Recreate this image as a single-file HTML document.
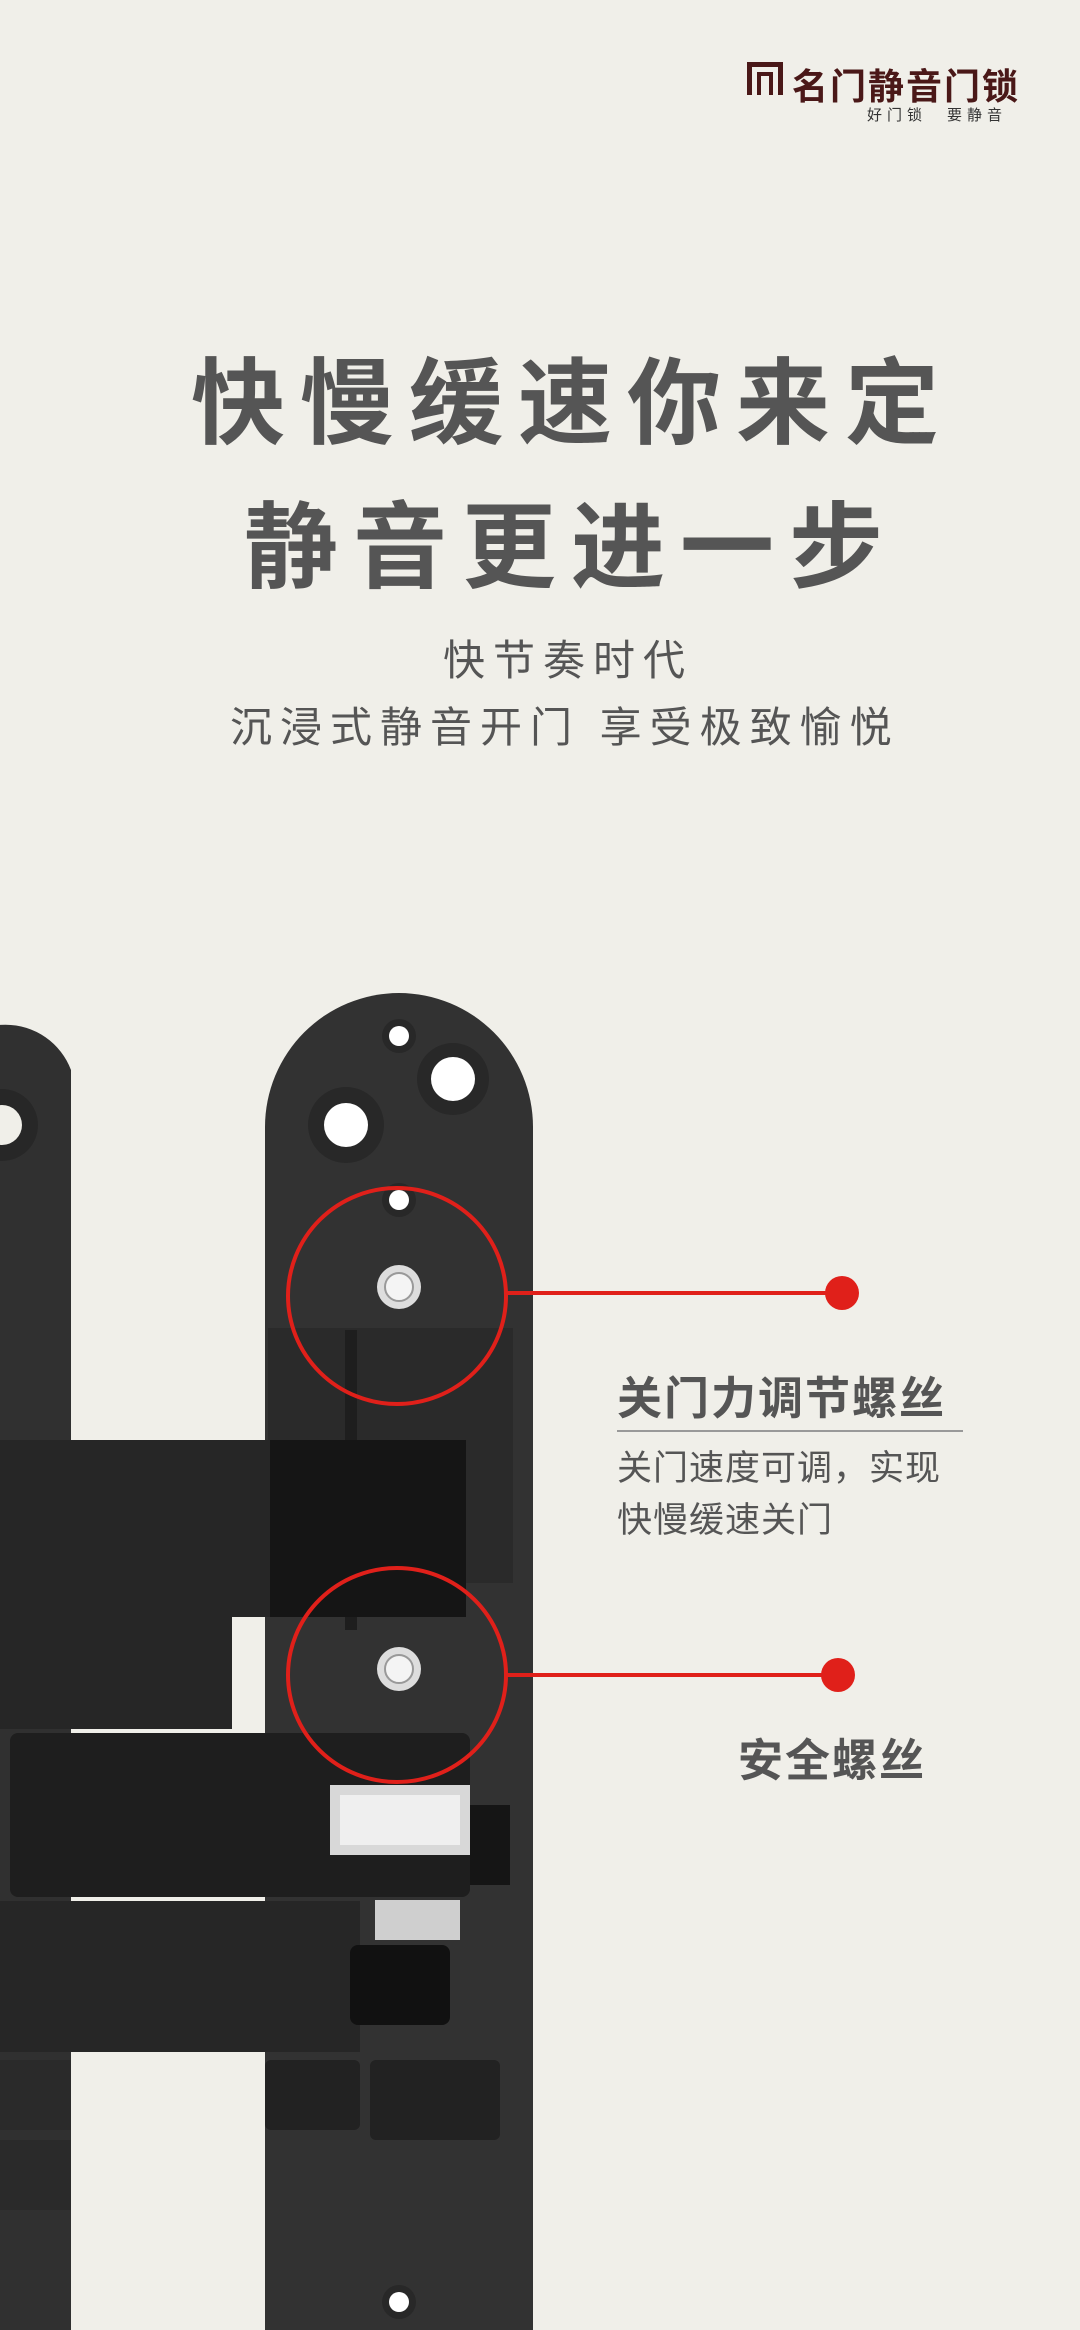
<!DOCTYPE html>
<html><head><meta charset="utf-8"><style>
body{margin:0}
#p{position:relative;width:1080px;height:2330px;background:#f0efe9;overflow:hidden;font-family:"Liberation Sans","Noto Sans CJK SC",sans-serif}
.t{position:absolute;white-space:nowrap}
</style></head><body><div id="p">
<svg width="1080" height="2330" style="position:absolute;left:0;top:0">
<g fill="#4a1818"><rect x="747" y="62" width="36" height="5"/><rect x="747" y="62" width="5" height="33"/><rect x="778" y="62" width="5" height="33"/><rect x="757" y="72" width="4" height="23"/><rect x="769" y="72" width="4" height="23"/><rect x="757" y="72" width="16" height="4"/></g>
<path d="M-60 2330 V1070 A70 70 0 0 1 71 1070 V2330 Z" fill="#303030"/>
<circle cx="2" cy="1125" r="36" fill="#272727"/><circle cx="2" cy="1125" r="20" fill="#f0efe9"/>
<path d="M265 2330 V1127 A134 134 0 0 1 533 1127 V2330 Z" fill="#323232"/>
<rect x="268" y="1328" width="245" height="255" fill="#2a2a2a"/>
<rect x="345" y="1330" width="12" height="300" fill="#1e1e1e"/>
<circle cx="399" cy="1036" r="17" fill="#282828"/><circle cx="399" cy="1036" r="10" fill="#fff"/>
<circle cx="346" cy="1125" r="38" fill="#282828"/><circle cx="346" cy="1125" r="22" fill="#fff"/>
<circle cx="453" cy="1079" r="36" fill="#282828"/><circle cx="453" cy="1079" r="22" fill="#fff"/>
<circle cx="399" cy="1200" r="17" fill="#282828"/><circle cx="399" cy="1200" r="10" fill="#fff"/>
<circle cx="399" cy="2302" r="17" fill="#282828"/><circle cx="399" cy="2302" r="10" fill="#fff"/>
<path d="M0 1440 H466 V1617 H232 V1729 H0 Z" fill="#262626"/>
<rect x="270" y="1440" width="196" height="177" fill="#151515"/>
<rect x="10" y="1733" width="460" height="164" rx="8" fill="#1e1e1e"/>
<rect x="0" y="1901" width="360" height="151" fill="#262626"/>
<rect x="330" y="1785" width="140" height="70" fill="#d8d8d8"/>
<rect x="340" y="1795" width="120" height="50" fill="#efefef"/>
<rect x="375" y="1900" width="85" height="40" fill="#cfcfcf"/>
<rect x="350" y="1945" width="100" height="80" rx="8" fill="#111"/>
<rect x="470" y="1805" width="40" height="80" fill="#151515"/>
<rect x="265" y="2060" width="95" height="70" rx="6" fill="#222"/>
<rect x="370" y="2060" width="130" height="80" rx="6" fill="#222"/>
<rect x="0" y="2060" width="71" height="70" fill="#2a2a2a"/>
<rect x="0" y="2140" width="71" height="70" fill="#2a2a2a"/>
<circle cx="399" cy="1287" r="22" fill="#ddd"/><circle cx="399" cy="1287" r="14" fill="#f4f4f4" stroke="#999" stroke-width="2"/>
<circle cx="399" cy="1669" r="22" fill="#ddd"/><circle cx="399" cy="1669" r="14" fill="#f4f4f4" stroke="#999" stroke-width="2"/>
<g stroke="#e0201a" stroke-width="4" fill="none">
<ellipse cx="397" cy="1296" rx="109" ry="108"/>
<ellipse cx="397" cy="1675" rx="109" ry="107"/>
<line x1="506" y1="1293" x2="842" y2="1293"/>
<line x1="506" y1="1675" x2="838" y2="1675"/>
</g>
<circle cx="842" cy="1293" r="17" fill="#e0201a"/>
<circle cx="838" cy="1675" r="17" fill="#e0201a"/>
<line x1="617" y1="1431" x2="963" y2="1431" stroke="#999" stroke-width="2"/>
</svg>
<div class="t" style="left:792px;top:58px;font-size:36px;font-weight:bold;color:#4a1818;letter-spacing:2px">名门静音门锁</div>
<div class="t" style="left:867px;top:104px;font-size:15px;color:#333;letter-spacing:5px">好门锁　要静音</div>
<div class="t" style="left:191px;top:328px;font-size:94px;font-weight:bold;color:#555;letter-spacing:15px">快慢缓速你来定</div>
<div class="t" style="left:244px;top:472px;font-size:94px;font-weight:bold;color:#555;letter-spacing:15px">静音更进一步</div>
<div class="t" style="left:443px;top:627px;font-size:42px;color:#555;letter-spacing:8px">快节奏时代</div>
<div class="t" style="left:230px;top:694px;font-size:42px;color:#555;letter-spacing:8px">沉浸式静音开门 享受极致愉悦</div>
<div class="t" style="left:617px;top:1362px;font-size:45px;font-weight:bold;color:#555;letter-spacing:2px">关门力调节螺丝</div>
<div class="t" style="left:617px;top:1440px;font-size:35px;color:#555;letter-spacing:1px">关门速度可调，实现</div>
<div class="t" style="left:617px;top:1492px;font-size:35px;color:#555;letter-spacing:1px">快慢缓速关门</div>
<div class="t" style="left:738px;top:1724px;font-size:45px;font-weight:bold;color:#555;letter-spacing:2px">安全螺丝</div>
</div></body></html>
